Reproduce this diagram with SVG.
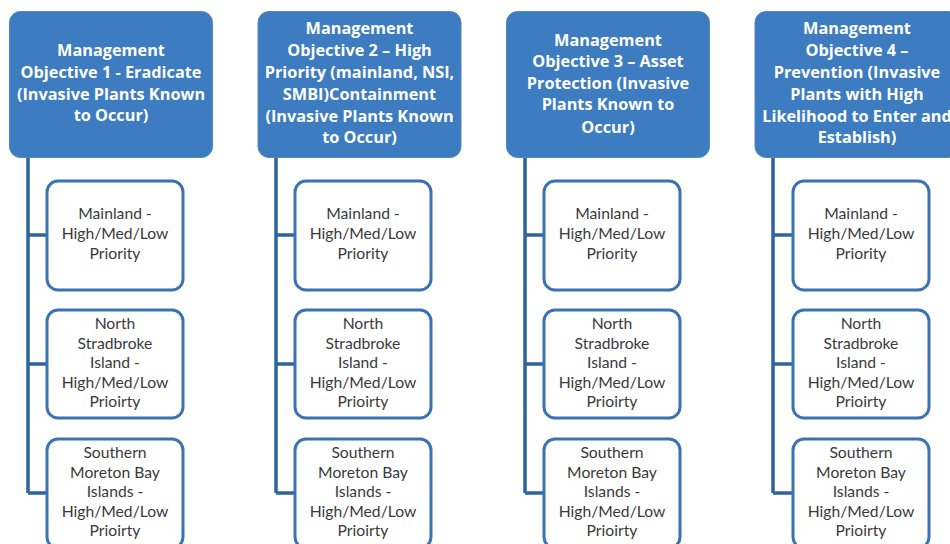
<svg xmlns="http://www.w3.org/2000/svg" width="950" height="544" viewBox="0 0 950 544">
<style>
.hdr{fill:#3d7cc0;stroke:#4a86c8;stroke-width:1}
.child{fill:#ffffff;stroke:#3b72b2;stroke-width:3}
.conn{fill:none;stroke:#2f639e;stroke-width:3.5}
.ht{font-family:"Open Sans","Liberation Sans",sans-serif;font-weight:bold;font-size:16.3px;fill:#ffffff;text-anchor:middle}
.ct{font-family:Lato,"Liberation Sans",sans-serif;font-size:15.7px;fill:#3a3a3a;text-anchor:middle}
</style>
<rect width="950" height="544" fill="#ffffff"/>
<g id="connectors">
<path class="conn" d="M28,157 V493 M28,235 H47 M28,364 H47 M28,493 H47"/>
<path class="conn" d="M276,157 V493 M276,235 H295 M276,364 H295 M276,493 H295"/>
<path class="conn" d="M525,157 V493 M525,235 H544 M525,364 H544 M525,493 H544"/>
<path class="conn" d="M773,157 V493 M773,235 H793 M773,364 H793 M773,493 H793"/>
</g>
<g id="obj1">
<rect class="hdr" x="9.5" y="11.5" width="203" height="146" rx="11"/>
<text class="ht"><tspan x="111" y="56">Management</tspan><tspan x="111" y="78">Objective 1 - Eradicate</tspan><tspan x="111" y="100">(Invasive Plants Known</tspan><tspan x="111" y="121">to Occur)</tspan></text>
</g>
<g id="obj2">
<rect class="hdr" x="258" y="11.5" width="203" height="146" rx="11"/>
<text class="ht"><tspan x="359.5" y="34">Management</tspan><tspan x="359.5" y="56">Objective 2 – High</tspan><tspan x="359.5" y="78">Priority (mainland, NSI,</tspan><tspan x="359.5" y="100">SMBI)Containment</tspan><tspan x="359.5" y="122">(Invasive Plants Known</tspan><tspan x="359.5" y="143">to Occur)</tspan></text>
</g>
<g id="obj3">
<rect class="hdr" x="506.5" y="11.5" width="203" height="146" rx="11"/>
<text class="ht"><tspan x="608" y="46">Management</tspan><tspan x="608" y="67">Objective 3 – Asset</tspan><tspan x="608" y="89">Protection (Invasive</tspan><tspan x="608" y="110">Plants Known to</tspan><tspan x="608" y="133">Occur)</tspan></text>
</g>
<g id="obj4">
<rect class="hdr" x="755" y="11.5" width="204" height="146" rx="11"/>
<text class="ht"><tspan x="857" y="34">Management</tspan><tspan x="857" y="56">Objective 4 –</tspan><tspan x="857" y="78">Prevention (Invasive</tspan><tspan x="857" y="100">Plants with High</tspan><tspan x="857" y="122">Likelihood to Enter and</tspan><tspan x="857" y="143">Establish)</tspan></text>
</g>
<g id="c1a"><rect class="child" x="47" y="181" width="136" height="109" rx="11"/>
<text class="ct"><tspan x="115" y="219">Mainland -</tspan><tspan x="115" y="239">High/Med/Low</tspan><tspan x="115" y="259">Priority</tspan></text></g>
<g id="c1b"><rect class="child" x="47" y="310" width="136" height="108" rx="11"/>
<text class="ct"><tspan x="115" y="329">North</tspan><tspan x="115" y="349">Stradbroke</tspan><tspan x="115" y="368">Island -</tspan><tspan x="115" y="388">High/Med/Low</tspan><tspan x="115" y="407">Prioirty</tspan></text></g>
<g id="c1c"><rect class="child" x="47" y="439" width="136" height="109" rx="11"/>
<text class="ct"><tspan x="115" y="458">Southern</tspan><tspan x="115" y="478">Moreton Bay</tspan><tspan x="115" y="497">Islands -</tspan><tspan x="115" y="517">High/Med/Low</tspan><tspan x="115" y="536">Prioirty</tspan></text></g>
<g id="c2a"><rect class="child" x="295" y="181" width="136" height="109" rx="11"/>
<text class="ct"><tspan x="363" y="219">Mainland -</tspan><tspan x="363" y="239">High/Med/Low</tspan><tspan x="363" y="259">Priority</tspan></text></g>
<g id="c2b"><rect class="child" x="295" y="310" width="136" height="108" rx="11"/>
<text class="ct"><tspan x="363" y="329">North</tspan><tspan x="363" y="349">Stradbroke</tspan><tspan x="363" y="368">Island -</tspan><tspan x="363" y="388">High/Med/Low</tspan><tspan x="363" y="407">Prioirty</tspan></text></g>
<g id="c2c"><rect class="child" x="295" y="439" width="136" height="109" rx="11"/>
<text class="ct"><tspan x="363" y="458">Southern</tspan><tspan x="363" y="478">Moreton Bay</tspan><tspan x="363" y="497">Islands -</tspan><tspan x="363" y="517">High/Med/Low</tspan><tspan x="363" y="536">Prioirty</tspan></text></g>
<g id="c3a"><rect class="child" x="544" y="181" width="136" height="109" rx="11"/>
<text class="ct"><tspan x="612" y="219">Mainland -</tspan><tspan x="612" y="239">High/Med/Low</tspan><tspan x="612" y="259">Priority</tspan></text></g>
<g id="c3b"><rect class="child" x="544" y="310" width="136" height="108" rx="11"/>
<text class="ct"><tspan x="612" y="329">North</tspan><tspan x="612" y="349">Stradbroke</tspan><tspan x="612" y="368">Island -</tspan><tspan x="612" y="388">High/Med/Low</tspan><tspan x="612" y="407">Prioirty</tspan></text></g>
<g id="c3c"><rect class="child" x="544" y="439" width="136" height="109" rx="11"/>
<text class="ct"><tspan x="612" y="458">Southern</tspan><tspan x="612" y="478">Moreton Bay</tspan><tspan x="612" y="497">Islands -</tspan><tspan x="612" y="517">High/Med/Low</tspan><tspan x="612" y="536">Prioirty</tspan></text></g>
<g id="c4a"><rect class="child" x="793" y="181" width="136" height="109" rx="11"/>
<text class="ct"><tspan x="861" y="219">Mainland -</tspan><tspan x="861" y="239">High/Med/Low</tspan><tspan x="861" y="259">Priority</tspan></text></g>
<g id="c4b"><rect class="child" x="793" y="310" width="136" height="108" rx="11"/>
<text class="ct"><tspan x="861" y="329">North</tspan><tspan x="861" y="349">Stradbroke</tspan><tspan x="861" y="368">Island -</tspan><tspan x="861" y="388">High/Med/Low</tspan><tspan x="861" y="407">Prioirty</tspan></text></g>
<g id="c4c"><rect class="child" x="793" y="439" width="136" height="109" rx="11"/>
<text class="ct"><tspan x="861" y="458">Southern</tspan><tspan x="861" y="478">Moreton Bay</tspan><tspan x="861" y="497">Islands -</tspan><tspan x="861" y="517">High/Med/Low</tspan><tspan x="861" y="536">Prioirty</tspan></text></g>
</svg>
